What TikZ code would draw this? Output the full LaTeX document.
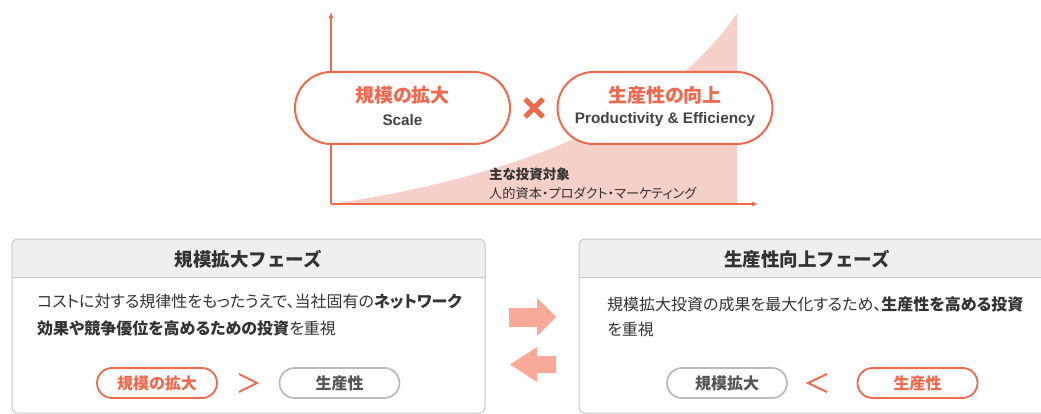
\documentclass[tikz,border=0pt]{standalone}
\usepackage{fontspec}
\usetikzlibrary{arrows.meta,calc}
\setmainfont{Noto Sans CJK JP}[RawFeature=+palt]
\newfontfamily\jpfull{Noto Sans CJK JP}
\newfontfamily\lat{Liberation Sans}
\definecolor{accent}{HTML}{F0684E}
\definecolor{pinkfill}{HTML}{F5D0C8}
\definecolor{arrowfill}{HTML}{F9A999}
\definecolor{pillgray}{HTML}{BBBBBB}
\definecolor{pilltext}{HTML}{555555}
\definecolor{bodytext}{HTML}{333333}
\definecolor{boxline}{HTML}{C8C8C8}
\definecolor{headfill}{HTML}{EFEFEF}
\definecolor{engtext}{HTML}{444444}
\tikzset{
  bigpill/.style={draw=accent, line width=2, fill=white, rounded corners=36, minimum width=215, minimum height=72, inner sep=0},
  smallpill/.style={line width=1.8, fill=white, rounded corners=15, minimum width=120, minimum height=30, inner sep=0, font=\fontsize{16}{18}\selectfont\bfseries},
  orangepill/.style={smallpill, draw=accent, text=accent},
  graypill/.style={smallpill, draw=pillgray, text=pilltext},
  axisline/.style={draw=accent, line width=1.2, -{Latex[length=6,width=5]}},
  bodyline/.style={anchor=west, inner sep=0, text=bodytext, font=\fontsize{16}{18}\selectfont},
  headtitle/.style={inner sep=0, text=bodytext, font=\jpfull\fontsize{18.5}{20}\selectfont\bfseries},
  framebox/.style={draw=boxline, line width=1, rounded corners=6},
  chevron/.style={draw=accent, line width=2},
  blockarrow/.style={fill=arrowfill},
  engline/.style={inner sep=0, text=engtext, font=\lat\fontsize{15.3}{18}\selectfont\bfseries},
  jatitle/.style={inner sep=0, text=accent, font=\fontsize{19}{22}\selectfont\bfseries},
}
\begin{document}
\begin{tikzpicture}[x=1pt,y=-1pt]
\useasboundingbox (0,0) rectangle (1041,414);
\clip (0,0) rectangle (1041,414);
% ---------- top chart ----------
\fill[pinkfill] (331,204) .. controls (550,172) and (680,100) .. (737,13) -- (737,204) -- cycle;
\coordinate (origin) at (331,204);
\coordinate (ytop) at (331,12);
\coordinate (xend) at (758,204);
\draw[axisline] (origin) -- (ytop);
\draw[axisline] (origin) -- (xend);

\node[bigpill] (scalepill) at (402.5,108) {};
\node[jatitle] (scaleja) at (402.5,95) {規模の拡大};
\node[engline] (scaleen) at (402.5,120) {Scale};

\node[bigpill] (prodpill) at (665,108) {};
\node[jatitle] (prodja) at (665,95) {生産性の向上};
\node[engline] (proden) at (665,120) {Productivity \& Efficiency};

\coordinate (times) at (534,108);
\draw[accent, line width=5] ($(times)+(-9,-9)$) -- ($(times)+(9,9)$);
\draw[accent, line width=5] ($(times)+(-9,9)$) -- ($(times)+(9,-9)$);

\node[anchor=west, inner sep=0, text=bodytext, font=\fontsize{13.5}{16}\selectfont\bfseries] (targethead) at (489,174) {主な投資対象};
\node[anchor=west, inner sep=0, text=bodytext, font=\fontsize{13.2}{16}\selectfont] (targetlist) at (489,193) {人的資本・プロダクト・マーケティング};

% ---------- left phase box ----------
\begin{scope}
  \clip[rounded corners=6] (12,239) rectangle (485,413);
  \fill[white] (12,239) rectangle (485,413);
  \fill[headfill] (12,239) rectangle (485,277);
\end{scope}
\draw[boxline, line width=1] (12,277) -- (485,277);
\draw[framebox] (12,239) rectangle (485,413);
\node[headtitle] (lefttitle) at (248.5,259) {規模拡大フェーズ};
\node[bodyline] (leftl1) at (37,302) {コストに対する規律性をもったうえで、当社固有の\textbf{ネットワーク}};
\node[bodyline] (leftl2) at (37,328) {\textbf{効果や競争優位を高めるための投資}を重視};
\node[orangepill] (lscale) at (157,383) {規模の拡大};
\node[graypill] (lprod) at (339.5,383) {生産性};
\draw[chevron] (239,374) -- (257,383) -- (239,392);

% ---------- right phase box ----------
\begin{scope}
  \clip[rounded corners=6] (579,239) rectangle (1052,413);
  \fill[white] (579,239) rectangle (1052,413);
  \fill[headfill] (579,239) rectangle (1052,277);
\end{scope}
\draw[boxline, line width=1] (579,277) -- (1052,277);
\draw[framebox] (579,239) rectangle (1052,413);
\node[headtitle] (righttitle) at (807,259) {生産性向上フェーズ};
\node[bodyline] (rightl1) at (607,304) {規模拡大投資の成果を最大化するため、\textbf{生産性を高める投資}};
\node[bodyline] (rightl2) at (607,329) {を重視};
\node[graypill] (rscale) at (727,383) {規模拡大};
\node[orangepill] (rprod) at (917.5,383) {生産性};
\draw[chevron] (827,374) -- (808,383) -- (827,392);

% ---------- block arrows ----------
\fill[blockarrow] (509,308) -- (537,308) -- (537,298) -- (556,317) -- (537,336) -- (537,327) -- (509,327) -- cycle;
\fill[blockarrow] (556,356) -- (537,356) -- (537,347) -- (510,364.5) -- (537,382) -- (537,373) -- (556,373) -- cycle;
\end{tikzpicture}
\end{document}
